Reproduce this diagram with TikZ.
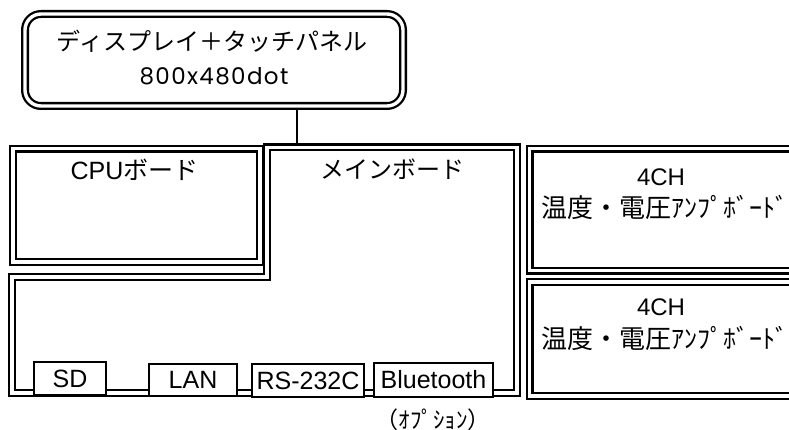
\documentclass[tikz,border=0pt]{standalone}
\usepackage{fontspec}
\setmainfont{Liberation Sans}
\newfontfamily\jp{Noto Sans CJK JP}
\newfontfamily\rnd[LetterSpace=6]{Poppins}
\begin{document}
\begin{tikzpicture}[x=1pt,y=-1pt,
  dbl/.style={draw=black, line width=2.3pt, double=white, double distance=3.4pt, line join=miter, inner sep=0pt},
  port/.style={draw=black, line width=1.4pt, fill=white, inner sep=0pt, font=\fontsize{25}{28}\selectfont},
  lbl/.style={inner sep=0pt, font=\fontsize{24}{28}\selectfont},
  conn/.style={draw=black, line width=1.2pt},
]
\clip (0,0) rectangle (789,430);
% connector (drawn first, boxes cover its ends)
\coordinate (mbtop) at (297,147.5);
\node[dbl, rounded corners=16pt, minimum width=378pt, minimum height=92pt, draw=none, double=none] (dispshape) at (214,60) {};
\draw[conn] (mbtop |- dispshape.south) -- (mbtop);
% display box
\node[dbl, rounded corners=16pt, minimum width=378pt, minimum height=92pt] (disp) at (214,60) {};
\node[lbl] (disp1) at (212,41) {\jp ディスプレイ＋タッチパネル};
\node[lbl, font=\rnd\fontsize{23}{26}\selectfont] (disp2) at (214,76) {800x480dot};
% CPU board
\node[dbl, anchor=north west, minimum width=247pt, minimum height=113.5pt] (cpu) at (12,147.5) {};
\node[lbl, font=\fontsize{25}{28}\selectfont] (cputxt) at (134.5,170) {CPU{\jp ボード}};
% main board (L shape)
\draw[dbl] (267,147.5) -- (517,147.5) -- (517,393) -- (12,393) -- (12,277) -- (267,277) -- cycle;
\node[lbl] (maintxt) at (392,169) {\jp メインボード};
% amp boards
\node[dbl, anchor=north west, minimum width=280pt, minimum height=122pt] (amp1) at (528.5,147.5) {};
\node[lbl] (amp1a) at (661,177) {4CH};
\node[lbl, font=\jp\fontsize{26}{28}\selectfont] (amp1b) at (665,207) {温度・電圧ｱﾝﾌﾟﾎﾞｰﾄﾞ};
\node[dbl, anchor=north west, minimum width=280pt, minimum height=114pt] (amp2) at (528.5,281) {};
\node[lbl] (amp2a) at (661,307.5) {4CH};
\node[lbl, font=\jp\fontsize{26}{28}\selectfont] (amp2b) at (665,338) {温度・電圧ｱﾝﾌﾟﾎﾞｰﾄﾞ};
% ports
\node[port, minimum width=72pt, minimum height=33pt] (sd) at (70,378.5) {SD};
\node[port, minimum width=88pt, minimum height=32pt] (lan) at (193,380) {LAN};
\node[port, minimum width=112pt, minimum height=33pt] (rs) at (308,380.5) {RS-232C};
\node[port, minimum width=119pt, minimum height=34pt] (bt) at (433.5,380) {Bluetooth};
\node[lbl, font=\jp\fontsize{23}{24}\selectfont] (opt) at (433,420) {（ｵﾌﾟｼｮﾝ）};
\end{tikzpicture}
\end{document}
